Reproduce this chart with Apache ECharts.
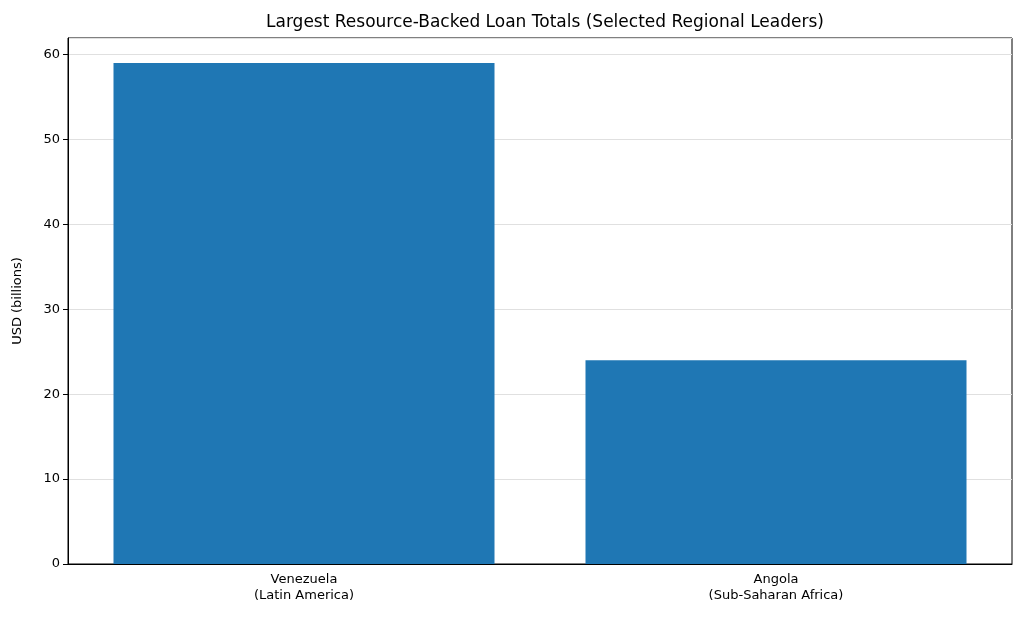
<!DOCTYPE html>
<html><head><meta charset="utf-8">
<script src="https://cdn.jsdelivr.net/npm/echarts@6/dist/echarts.min.js"></script>
<style>html,body{margin:0;padding:0;background:#fff}#c{width:1024px;height:625px}</style>
</head><body><div id="c"></div>
<script>
const categories = ["Venezuela\n(Latin America)", "Angola\n(Sub-Saharan Africa)"];
const values = [59, 24];
const chart = echarts.init(document.getElementById('c'));
const font = "DejaVu Sans";
chart.setOption({
  animation: false,
  title: { text: "Largest Resource-Backed Loan Totals (Selected Regional Leaders)", left: 540, top: 9, textAlign: 'center',
    textStyle: { fontFamily: font, fontSize: 17, fontWeight: 'normal', color: '#000' } },
  grid: { left: 68, right: 12, top: 38, bottom: 61, show: true, borderColor: '#000', borderWidth: 1 },
  xAxis: { type: 'category', data: categories,
    axisLine: { lineStyle: { color: '#000' } },
    axisTick: { alignWithLabel: true, length: 5, lineStyle: { color: '#000' } },
    axisLabel: { fontFamily: font, fontSize: 13, color: '#000', lineHeight: 16, margin: 8 } },
  yAxis: { type: 'value', min: 0, max: 61.95, interval: 10,
    name: 'USD (billions)', nameLocation: 'middle', nameGap: 44,
    nameTextStyle: { fontFamily: font, fontSize: 13, color: '#000' },
    axisLine: { show: true, lineStyle: { color: '#000' } },
    axisTick: { show: true, length: 5, lineStyle: { color: '#000' } },
    axisLabel: { fontFamily: font, fontSize: 13, color: '#000', showMaxLabel: false,
      formatter: v => (v % 10 === 0 ? v : '') },
    splitLine: { lineStyle: { color: '#e0e0e0' } } },
  series: [{ type: 'bar', data: values, barWidth: 381, itemStyle: { color: '#1f77b4' } }]
});
</script></body></html>
